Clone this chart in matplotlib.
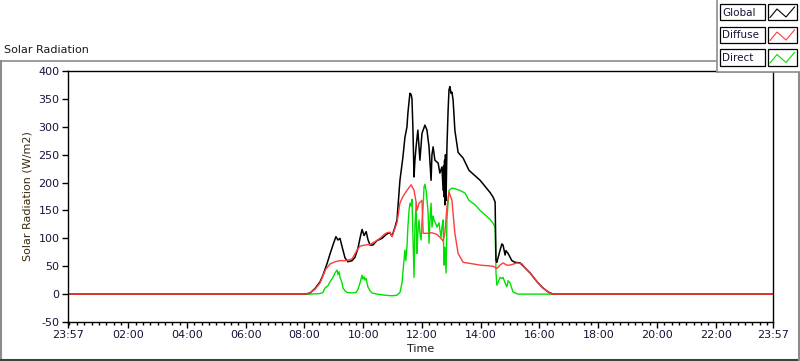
import matplotlib
matplotlib.use("Agg")
import matplotlib.pyplot as plt
from matplotlib.patches import Rectangle
from matplotlib.lines import Line2D

plt.rcParams['axes.unicode_minus'] = False

# Tiempos en horas (23:57 = -0.05, 23:57 del dia siguiente = 23.95)
hora_global = [-0.05, 8.02, 8.19, 8.36, 8.53, 8.63, 8.77, 8.87, 8.97, 9.07, 9.14, 9.21, 9.28,
               9.38, 9.48, 9.62, 9.72, 9.82, 9.89, 9.96, 10.03, 10.10, 10.16, 10.23, 10.33,
               10.47, 10.64, 10.81, 10.91, 10.98, 11.08, 11.15, 11.25, 11.35, 11.42, 11.49,
               11.52, 11.56, 11.59, 11.63, 11.66, 11.69, 11.73, 11.76, 11.80, 11.86, 11.93,
               12.00, 12.10, 12.17, 12.24, 12.31, 12.34, 12.38, 12.44, 12.55, 12.61, 12.68,
               12.72, 12.74, 12.75, 12.77, 12.78, 12.80, 12.82, 12.85, 12.89, 12.92, 12.95,
               12.99, 13.02, 13.06, 13.12, 13.23, 13.40, 13.60, 13.81, 13.98, 14.15, 14.32,
               14.42, 14.49, 14.52, 14.55, 14.66, 14.72, 14.76, 14.83, 14.86, 14.93, 15.00,
               15.06, 15.17, 15.34, 15.51, 15.68, 15.92, 16.12, 16.29, 16.46, 23.95]
val_global = [0, 0, 2, 10, 22, 34, 55, 72, 88, 103, 97, 100, 85,
              65, 58, 60, 66, 82, 100, 116, 105, 112, 98, 88, 88,
              96, 100, 108, 110, 104, 120, 133, 204, 245, 281, 300,
              324, 345, 360, 358, 350, 300, 210, 240, 264, 294, 240,
              288, 303, 294, 264, 204, 250, 264, 240, 235, 217, 228,
              186, 230, 175, 240, 160, 250, 168, 264, 330, 366, 372,
              360, 362, 348, 294, 254, 244, 222, 212, 204, 193, 182,
              174, 165, 61, 57, 79, 90, 88, 70, 78, 73, 66,
              60, 57, 56, 47, 38, 22, 11, 4, 0, 0]

hora_difusa = [-0.05, 8.02, 8.19, 8.36, 8.53, 8.63, 8.73, 8.87, 9.04, 9.21, 9.38, 9.48, 9.62,
               9.79, 9.89, 10.06, 10.23, 10.40, 10.57, 10.74, 10.81, 10.91, 10.98, 11.08,
               11.15, 11.25, 11.35, 11.49, 11.63, 11.73, 11.80, 11.83, 11.90, 12.00, 12.04,
               12.17, 12.34, 12.51, 12.61, 12.72, 12.78, 12.85, 12.92, 13.02, 13.12, 13.23,
               13.40, 13.64, 13.98, 14.42, 14.55, 14.66, 14.76, 14.89, 15.00, 15.24, 15.41,
               15.51, 15.68, 15.92, 16.12, 16.29, 16.46, 23.95]
val_difusa = [0, 0, 2, 9, 20, 33, 45, 54, 58, 60, 60, 61, 63,
              79, 86, 88, 89, 94, 100, 108, 110, 111, 103, 118,
              128, 163, 175, 186, 196, 186, 165, 150, 163, 168, 109,
              109, 110, 107, 102, 95, 110, 156, 183, 168, 109, 73,
              57, 55, 52, 50, 46, 52, 56, 52, 52, 56, 54,
              47, 38, 22, 11, 4, 0, 0]

hora_directa = [8.02, 8.19, 8.53, 8.63, 8.70, 8.80, 8.87, 8.97, 9.04, 9.11, 9.14, 9.18, 9.21,
                9.28, 9.31, 9.38, 9.45, 9.62, 9.75, 9.82, 9.89, 9.96, 9.99, 10.03, 10.06,
                10.10, 10.16, 10.23, 10.30, 10.47, 10.74, 10.98, 11.15, 11.25, 11.32, 11.35,
                11.42, 11.45, 11.49, 11.52, 11.56, 11.59, 11.63, 11.66, 11.69, 11.73, 11.76,
                11.80, 11.83, 11.86, 11.90, 11.93, 11.97, 12.00, 12.04, 12.07, 12.10, 12.14,
                12.17, 12.21, 12.24, 12.27, 12.31, 12.34, 12.38, 12.41, 12.48, 12.51, 12.58,
                12.61, 12.65, 12.68, 12.72, 12.75, 12.78, 12.82, 12.85, 12.89, 12.92, 13.02,
                13.12, 13.29, 13.47, 13.60, 13.81, 13.98, 14.15, 14.32, 14.42, 14.49, 14.52,
                14.55, 14.62, 14.66, 14.72, 14.76, 14.83, 14.89, 14.93, 15.00, 15.06, 15.10,
                15.17, 15.27, 15.44, 16.46]
val_directa = [0, 0, 1, 3, 11, 15, 22, 30, 38, 43, 35, 40, 30,
               20, 11, 6, 3, 2, 3, 8, 20, 34, 27, 31, 25,
               28, 13, 6, 2, 0, -2, -3, -2, 3, 20, 38,
               79, 60, 85, 120, 150, 163, 158, 170, 109, 30, 120,
               163, 73, 110, 133, 110, 97, 130, 156, 192, 197, 186,
               170, 145, 91, 130, 163, 120, 140, 133, 125, 120, 128,
               115, 102, 120, 133, 52, 84, 38, 133, 165, 186, 190,
               189, 186, 181, 168, 160, 150, 142, 134, 127, 120, 38,
               16, 25, 30, 28, 30, 20, 13, 24, 20, 10, 4,
               2, 0, 0, 0]

etiquetas_x = ['23:57', '02:00', '04:00', '06:00', '08:00', '10:00', '12:00',
               '14:00', '16:00', '18:00', '20:00', '22:00', '23:57']
posiciones_x = [-0.05, 2, 4, 6, 8, 10, 12, 14, 16, 18, 20, 22, 23.95]
valores_y = [-50, 0, 50, 100, 150, 200, 250, 300, 350, 400]

series = ['Global', 'Diffuse', 'Direct']
colores = ['#000000', '#ff3b3b', '#00e000']

W, H = 800, 361
fig = plt.figure(figsize=(W / 100, H / 100), dpi=100)


def px(x, y):
    # pixeles de la imagen -> coordenadas de figura
    return x / W, 1 - y / H


# Marco gris exterior
marco = '#8c8c8c'
fig.add_artist(Line2D([0, 717 / W], [1 - 61 / H] * 2, color=marco, lw=1.2, transform=fig.transFigure))
fig.add_artist(Line2D([1 / W] * 2, [1 - 61 / H, 0], color=marco, lw=1.5, transform=fig.transFigure))
fig.add_artist(Line2D([0, 1], [1 / H] * 2, color='#404040', lw=1.5, transform=fig.transFigure))
fig.add_artist(Line2D([799 / W] * 2, [1 - 72 / H, 0], color=marco, lw=1.5, transform=fig.transFigure))

fig.text(4 / W, 1 - 50 / H, 'Solar Radiation', fontsize=8, va='center', ha='left', color='#1a1a1a')

ax = fig.add_axes([68 / W, 1 - 322 / H, 705 / W, 251 / H])
ax.plot(hora_directa, val_directa, color=colores[2], lw=1.0)
ax.plot(hora_global, val_global, color=colores[0], lw=1.1)
ax.plot(hora_difusa, val_difusa, color=colores[1], lw=1.0)

ax.set_xlim(-0.05, 23.95)
ax.set_ylim(-50, 400)
ax.set_xticks(posiciones_x)
ax.set_xticklabels(etiquetas_x)
ax.set_xticks([i * 0.25 for i in range(96)], minor=True)
ax.set_yticks(valores_y)
ax.tick_params(axis='both', which='major', direction='out', length=4, width=1,
               labelsize=8, labelcolor='#14143a', pad=2)
ax.tick_params(axis='x', which='minor', direction='out', length=2.5, width=1)
for s in ax.spines.values():
    s.set_linewidth(1)
    s.set_color('black')
ax.set_ylabel('Solar Radiation (W/m2)', fontsize=8, color='#3a2a10', labelpad=4)
ax.set_xlabel('Time', fontsize=8, color='#1a1a1a', labelpad=3)

# Panel de leyenda (cajas estilo LabVIEW)
fig.add_artist(Rectangle(px(717, 72), 83 / W, 72 / H, transform=fig.transFigure,
                         facecolor='white', edgecolor='none', zorder=5))
fig.add_artist(Line2D([717 / W] * 2, [1 - 72 / H, 1], color=marco, lw=1.2,
                      transform=fig.transFigure, zorder=6))
fig.add_artist(Line2D([717 / W, 1], [1 - 72 / H] * 2, color=marco, lw=1.2,
                      transform=fig.transFigure, zorder=6))
filas = [4, 27, 49.5]
for nombre, color, y0 in zip(series, colores, filas):
    fig.add_artist(Rectangle(px(719.5, y0 + 16), 45.5 / W, 16 / H, transform=fig.transFigure,
                             facecolor='white', edgecolor='black', lw=0.9, zorder=7))
    fig.text(722 / W, 1 - (y0 + 8.5) / H, nombre, fontsize=7.5, va='center', ha='left',
             color='#14143a', zorder=8)
    fig.add_artist(Rectangle(px(768, y0 + 16), 28.5 / W, 16 / H, transform=fig.transFigure,
                             facecolor='white', edgecolor='black', lw=0.9, zorder=7))
    zx = [770, 777, 786, 794.5]
    zy = [y0 + 13.5, y0 + 5, y0 + 13, y0 + 3]
    fig.add_artist(Line2D([v / W for v in zx], [1 - v / H for v in zy], color=color, lw=0.8,
                          transform=fig.transFigure, zorder=8))

fig.savefig('out.png', dpi=100)
